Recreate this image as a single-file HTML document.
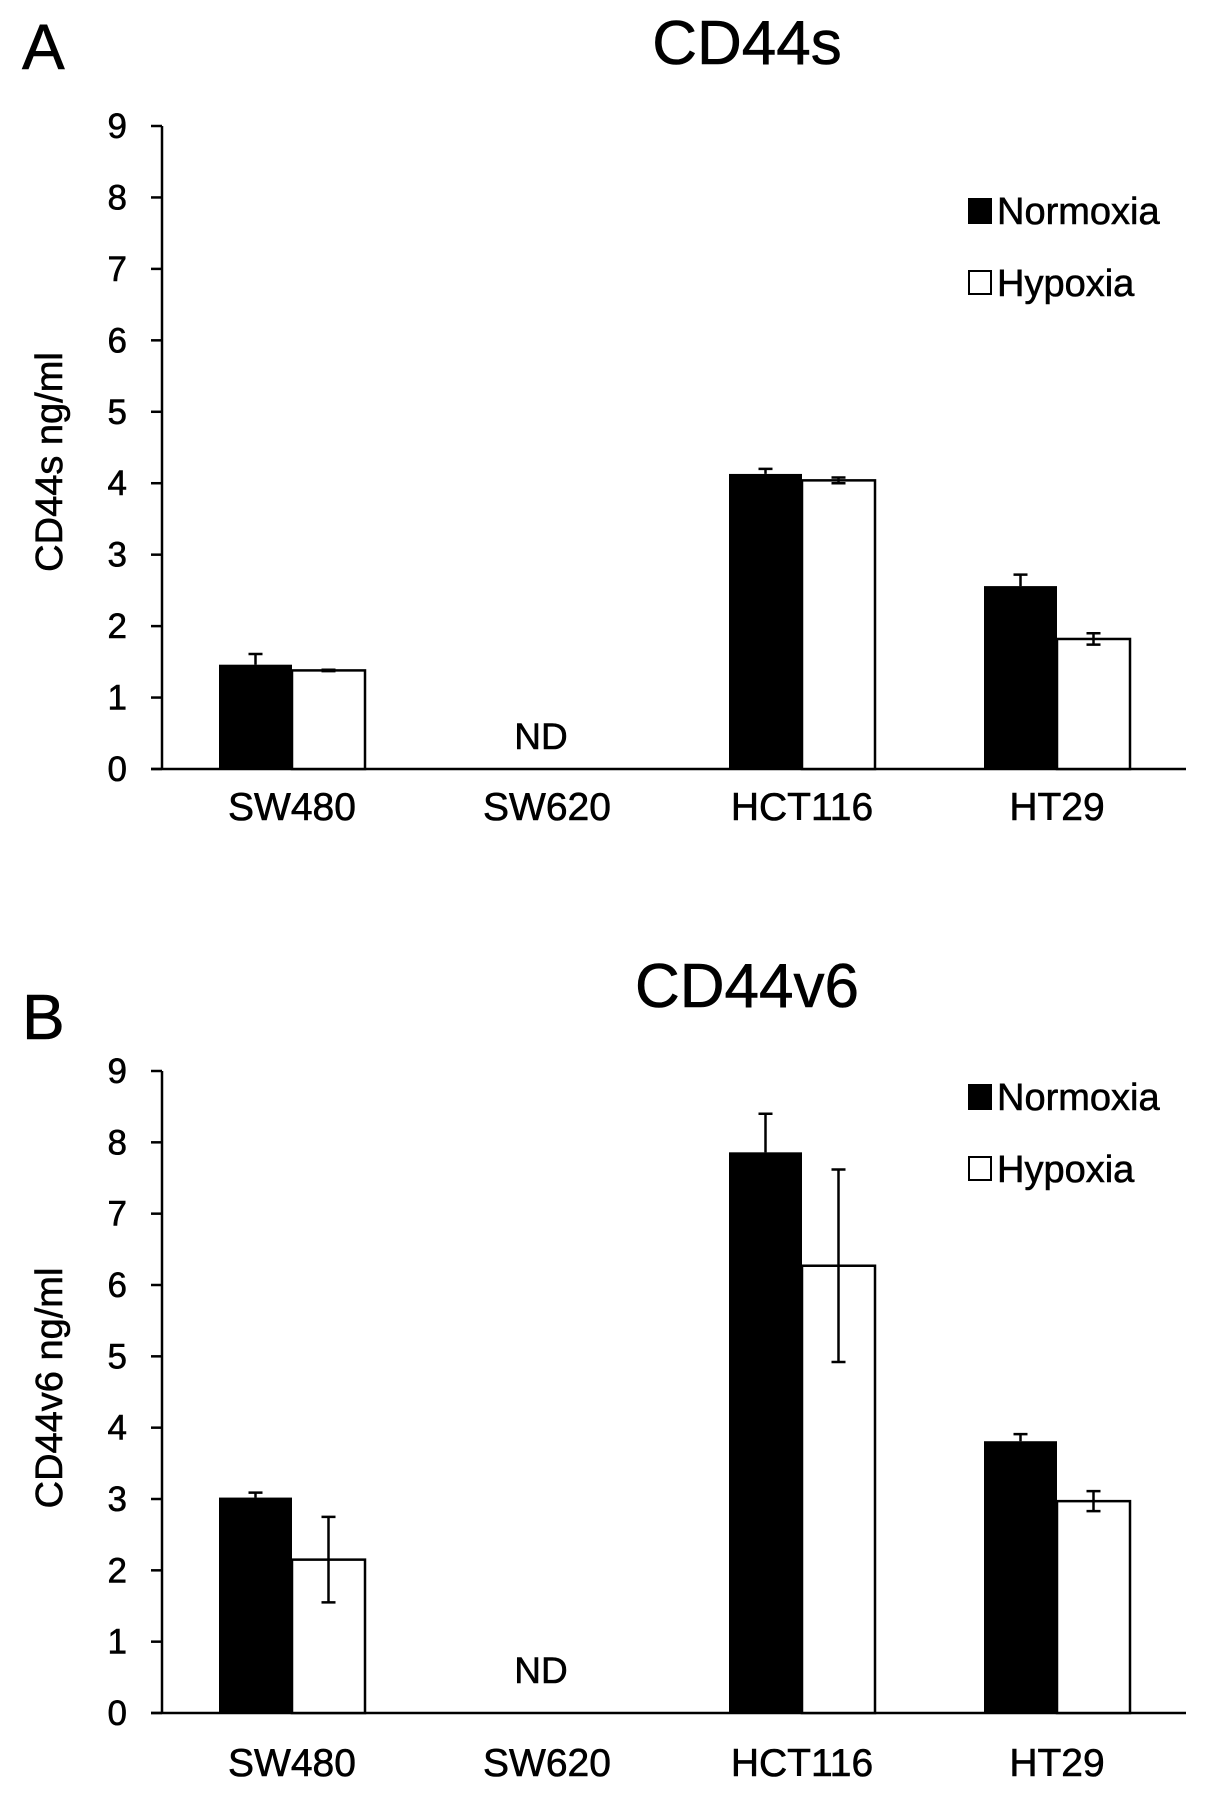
<!DOCTYPE html>
<html><head><meta charset="utf-8"><style>
html,body{margin:0;padding:0;background:#fff}
svg{display:block;font-family:"Liberation Sans",Arial,sans-serif}
svg text{stroke:#000;stroke-width:0.6}
</style></head><body>
<svg id="chart" width="1205" height="1801" viewBox="0 0 1205 1801"></svg>
<script>
const categories = ["SW480","SW620","HCT116","HT29"];
const yTicks = [0,1,2,3,4,5,6,7,8,9];
const aNormoxia = [1.46, null, 4.13, 2.56];
const aNormoxiaErr = [0.15, null, 0.07, 0.16];
const aHypoxia = [1.38, null, 4.04, 1.82];
const aHypoxiaErr = [0.01, null, 0.04, 0.08];
const bNormoxia = [3.02, null, 7.86, 3.81];
const bNormoxiaErr = [0.07, null, 0.54, 0.10];
const bHypoxia = [2.15, null, 6.27, 2.97];
const bHypoxiaErr = [0.60, null, 1.35, 0.14];

const NS = "http://www.w3.org/2000/svg";
const svg = document.getElementById("chart");
function mk(tag, attrs, parent){const e=document.createElementNS(NS,tag);for(const k in attrs)e.setAttribute(k,attrs[k]);(parent||svg).appendChild(e);return e;}

function panel(p){
  const g = mk("g",{});
  
  
  const y = v => p.y0 - (v/9)*(p.y0-p.y9);
  const xC = i => 292 + i*255;
  const bw = 73;
  let t = mk("text",{x:22,y:p.letterY,"font-size":64},g); t.textContent=p.letter;
  
  
  t = mk("text",{x:747,y:p.titleY,"font-size":62,"text-anchor":"middle"},g); t.textContent=p.title;
  
  
  t = mk("text",{transform:`translate(50,${p.ytY}) rotate(-90)`,"font-size":38,"text-anchor":"middle","dominant-baseline":"central"},g); t.textContent=p.ytitle;
  
  
  let l = mk("line",{x1:162,y1:y(9),x2:162,y2:p.y0,stroke:"#000","stroke-width":2.5},g);
  
  
  l = mk("line",{x1:151,y1:p.y0,x2:1186,y2:p.y0,stroke:"#000","stroke-width":2.5},g);
  
  
  yTicks.forEach(v=>{
    const tk = mk("line",{x1:151,y1:y(v),x2:162,y2:y(v),stroke:"#000","stroke-width":2.5},g);
    
    
    const tl = mk("text",{x:127,y:y(v)+12,"font-size":35,"text-anchor":"end"},g); tl.textContent=v;
    
    
  });
  categories.forEach((c,i)=>{
    const cl = mk("text",{x:xC(i),y:p.catY+14,"font-size":39,"text-anchor":"middle"},g); cl.textContent=c;
    
    
    const n=p.n[i], h=p.h[i];
    if(n==null){
      const nd = mk("text",{x:xC(i)-6,y:p.ndY+13,"font-size":37,"text-anchor":"middle"},g); nd.textContent="ND";
      
      
      return;
    }
    const bn = mk("rect",{x:xC(i)-bw,y:y(n),width:bw,height:p.y0-y(n),fill:"#000"},g);
    
    
    const bh = mk("rect",{x:xC(i),y:y(h),width:bw,height:p.y0-y(h),fill:"#fff",stroke:"#000","stroke-width":2.5},g);
    
    
    const cx1=xC(i)-bw/2, e1=p.ne[i];
    const eb1 = mk("path",{d:`M${cx1},${y(n)} V${y(n+e1)} M${cx1-7},${y(n+e1)} H${cx1+7}`,stroke:"#000","stroke-width":2.5,fill:"none"},g);
    
    
    const cx2=xC(i)+bw/2, e2=p.he[i];
    const eb2 = mk("path",{d:`M${cx2},${y(h-e2)} V${y(h+e2)} M${cx2-7},${y(h+e2)} H${cx2+7} M${cx2-7},${y(h-e2)} H${cx2+7}`,stroke:"#000","stroke-width":2.5,fill:"none"},g);
    
    
  });
  const s1 = mk("rect",{x:968,y:p.legY,width:24,height:26,fill:"#000"},g);
  
  
  t = mk("text",{x:997,y:p.legY+26,"font-size":38},g); t.textContent="Normoxia";
  
  
  const s2 = mk("rect",{x:969,y:p.legY+73,width:22,height:23,fill:"#fff",stroke:"#000","stroke-width":2},g);
  
  
  t = mk("text",{x:997,y:p.legY+98,"font-size":38},g); t.textContent="Hypoxia";
  
  
}
panel({name:"panel-a-cd44s",letter:"A",letterY:69,title:"CD44s",titleY:64,ytitle:"CD44s  ng/ml",ytY:462,
  y0:769,y9:126,catY:806,ndY:736,legY:198,n:aNormoxia,ne:aNormoxiaErr,h:aHypoxia,he:aHypoxiaErr});
panel({name:"panel-b-cd44v6",letter:"B",letterY:1039,title:"CD44v6",titleY:1007,ytitle:"CD44v6 ng/ml",ytY:1388,
  y0:1713,y9:1071,catY:1762,ndY:1670,legY:1084,n:bNormoxia,ne:bNormoxiaErr,h:bHypoxia,he:bHypoxiaErr});
</script>
</body></html>
